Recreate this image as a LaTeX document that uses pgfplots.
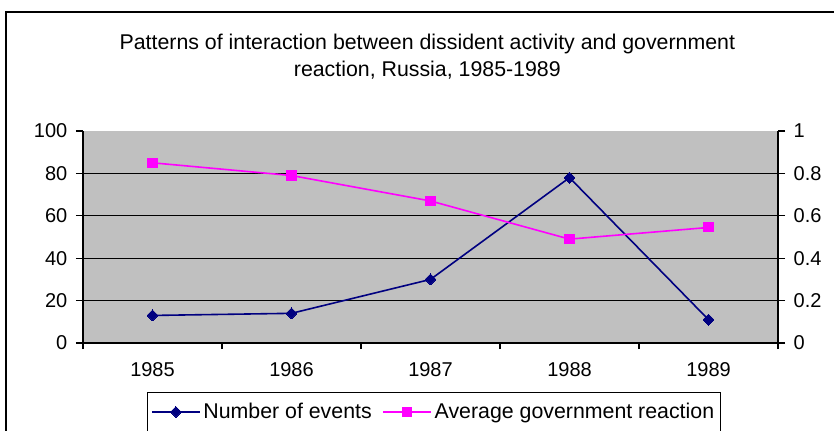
\documentclass[border=0pt]{standalone}
\usepackage{fontspec}
\setmainfont{Liberation Sans}
\usepackage{pgfplots}
\pgfplotsset{compat=1.18}
\definecolor{plotgray}{RGB}{192,192,192}
\definecolor{navyc}{RGB}{0,0,128}
\definecolor{magc}{RGB}{255,0,255}
\begin{document}
\begin{tikzpicture}
\path[use as bounding box] (0,0) rectangle (625.5pt,322.5pt);
\draw[black, line width=0.8pt] (4.5pt,-20pt) rectangle (650pt,313.5pt);
\node[font=\fontsize{16}{19}\selectfont, align=center] at (320.5pt,280pt) {Patterns of interaction between dissident activity and government\\[1pt] reaction, Russia, 1985-1989};
\begin{axis}[
  at={(62.25pt,65.25pt)}, anchor=south west,
  scale only axis, width=521.25pt, height=159pt,
  xmin=0.5, xmax=5.5, ymin=0, ymax=100,
  axis x line*=bottom, axis y line*=left,
  axis line style={black, line width=0.8pt, -},
  axis background/.style={fill=plotgray},
  xtick={1,2,3,4,5},
  xticklabels={1985,1986,1987,1988,1989},
  x tick style={draw=none},
  extra x ticks={0.5,1.5,2.5,3.5,4.5,5.5},
  extra x tick labels={},
  extra x tick style={x tick style={draw=black, line width=0.8pt}, major tick length=4.5pt},
  ytick={0,20,40,60,80,100},
  y tick style={black, line width=0.8pt},
  tick align=outside, major tick length=5.25pt,
  extra y ticks={20,40,60,80}, extra y tick labels={},
  extra y tick style={grid=major, major grid style={black, line width=0.8pt}, major tick length=0pt},
  tick label style={font=\fontsize{15}{18}\selectfont},
  /pgf/number format/assume math mode=true,
  xticklabel style={yshift=-6pt},
  yticklabel style={xshift=-3pt},
  legend columns=2,
  legend style={at={(0.505,-0.231)}, anchor=north, draw=black, line width=0.8pt, fill=white,
    font=\fontsize{16}{19}\selectfont, inner ysep=6pt, inner xsep=3pt,
    /tikz/every even column/.append style={column sep=6pt}},
  legend image code/.code={\draw[mark repeat=2,mark phase=2,#1] plot coordinates {(0pt,0pt) (18pt,0pt) (36pt,0pt)};},
]
\addplot[navyc, line width=1.2pt, mark=square*, mark size=2.9pt, mark options={rotate=45, fill=navyc, line width=0pt}]
  coordinates {(1,13) (2,14) (3,30) (4,78) (5,11)};
\addlegendentry{Number of events}
\addlegendimage{magc, line width=1.2pt, mark=square*, mark size=3.4pt, mark options={fill=magc, line width=0pt}}
\addlegendentry{Average government reaction}
\end{axis}
\begin{axis}[
  at={(62.25pt,65.25pt)}, anchor=south west,
  scale only axis, width=521.25pt, height=159pt,
  xmin=0.5, xmax=5.5, ymin=0, ymax=1,
  axis x line=none, axis y line*=right,
  axis line style={black, line width=0.8pt, -},
  ytick={0,0.2,0.4,0.6,0.8,1},
  yticklabels={0,0.2,0.4,0.6,0.8,1},
  y tick style={black, line width=0.8pt},
  tick align=outside, major tick length=5.25pt,
  tick label style={font=\fontsize{15}{18}\selectfont},
  yticklabel style={xshift=3pt},
]
\addplot[magc, line width=1.2pt, mark=square*, mark size=3.4pt, mark options={fill=magc, line width=0pt}]
  coordinates {(1,0.85) (2,0.79) (3,0.67) (4,0.49) (5,0.545)};
\end{axis}
\end{tikzpicture}
\end{document}
